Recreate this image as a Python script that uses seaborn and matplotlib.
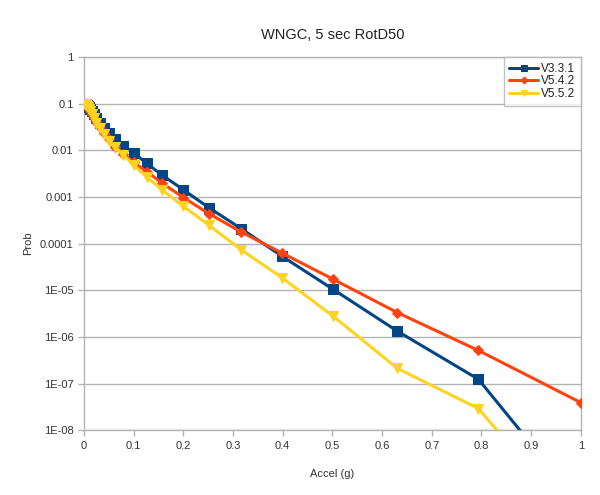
"""
hazard curves for WNGC, 5 sec RotD50, three model versions
"""

import matplotlib.pyplot as plt
import numpy as np
import pandas as pd
import seaborn as sns

sns.set_style("white")
plt.rcParams["font.family"] = ["Liberation Sans", "DejaVu Sans"]

# acceleration levels (g)
accel = [0.002, 0.0025, 0.00316, 0.004, 0.005, 0.0063, 0.0079, 0.01,
         0.0126, 0.0158, 0.02, 0.025, 0.0316, 0.04, 0.05, 0.063, 0.0794,
         0.1, 0.126, 0.158, 0.2, 0.251, 0.316, 0.398, 0.501, 0.631, 0.794,
         1.0]

v331 = [0.1, 0.0995, 0.099, 0.098, 0.096, 0.093, 0.089, 0.084,
        0.077, 0.069, 0.059, 0.049, 0.039, 0.030, 0.023, 0.0174, 0.0125,
        8.9e-3, 5.2e-3, 2.9e-3, 1.42e-3, 5.9e-4, 2.1e-4, 5.4e-5, 1.05e-5,
        1.32e-6, 1.23e-7, 2.5e-10]

v542 = [0.0995, 0.099, 0.098, 0.096, 0.093, 0.089, 0.084, 0.077,
        0.069, 0.060, 0.050, 0.040, 0.031, 0.023, 0.017, 0.012, 0.0085,
        5.5e-3, 3.5e-3, 1.95e-3, 9.7e-4, 4.4e-4, 1.78e-4, 6.3e-5, 1.73e-5,
        3.3e-6, 5.1e-7, 3.9e-8]

v552 = [0.099, 0.0985, 0.097, 0.095, 0.092, 0.088, 0.083, 0.076,
        0.068, 0.059, 0.049, 0.039, 0.030, 0.022, 0.016, 0.0115, 0.0079,
        4.8e-3, 2.7e-3, 1.4e-3, 6.3e-4, 2.5e-4, 7.4e-5, 1.87e-5, 2.8e-6,
        2.1e-7, 2.9e-8, 8e-11]

series_names = ["V3.3.1", "V5.4.2", "V5.5.2"]
series_values = [v331, v542, v552]
colors = ["#004586", "#ff420e", "#ffd320"]
markers = ["s", "D", "v"]
marker_sizes = [7, 5, 6.5]

ytick_vals = [1, 0.1, 0.01, 0.001, 0.0001, 1e-5, 1e-6, 1e-7, 1e-8]
ytick_labels = ["1", "0.1", "0.01", "0.001", "0.0001", "1E-05", "1E-06",
                "1E-07", "1E-08"]
xtick_vals = [0, 0.1, 0.2, 0.3, 0.4, 0.5, 0.6, 0.7, 0.8, 0.9, 1]
xtick_labels = ["0", "0.1", "0.2", "0.3", "0.4", "0.5", "0.6", "0.7",
                "0.8", "0.9", "1"]

# long form table for seaborn
frames = []
for name, vals in zip(series_names, series_values):
    frames.append(pd.DataFrame({"accel": accel, "prob": vals,
                                "series": name}))
data = pd.concat(frames, ignore_index=True)

fig = plt.figure(figsize=(6, 4.95), dpi=100)
ax = fig.add_axes([0.14, 0.131, 0.828, 0.754])

for name, col, mk, ms in zip(series_names, colors, markers, marker_sizes):
    sns.lineplot(
        x="accel", y="prob", data=data[data["series"] == name],
        color=col, marker=mk, markersize=ms, markeredgecolor=col,
        linewidth=2.2, label=name, ax=ax, zorder=3
    )

ax.set_yscale("log")
ax.set_xlim(0, 1)
ax.set_ylim(1e-8, 1)
ax.set_yticks(ytick_vals)
ax.set_yticklabels(ytick_labels)
ax.yaxis.set_minor_locator(plt.NullLocator())
ax.set_xticks(xtick_vals)
ax.set_xticklabels(xtick_labels)

grid_col = "#b3b3b3"
ax.grid(axis="y", color=grid_col, linewidth=1)
ax.grid(axis="x", visible=False)
for side in ["left", "bottom", "right", "top"]:
    ax.spines[side].set_color(grid_col)
    ax.spines[side].set_linewidth(1)
ax.tick_params(axis="both", which="major", length=4, width=1,
               color=grid_col, labelsize=8, labelcolor="#333333",
               direction="out", left=True, bottom=True)

ax.set_xlabel("Accel (g)", fontsize=8, color="#333333", labelpad=13)
ax.set_ylabel("Prob", fontsize=8, color="#333333", labelpad=5)
ax.set_title("WNGC, 5 sec RotD50", fontsize=10.5, color="#222222",
             pad=13)

leg = ax.legend(loc="upper right", fontsize=8.5, frameon=True,
                borderaxespad=0, fancybox=False, handlelength=2.4,
                labelspacing=0.05, handletextpad=0.25, markerscale=0.7,
                borderpad=0.5)
leg.get_frame().set_edgecolor(grid_col)
leg.get_frame().set_linewidth(1)
for txt in leg.get_texts():
    txt.set_color("#222222")

fig.savefig("out.png", dpi=100)
